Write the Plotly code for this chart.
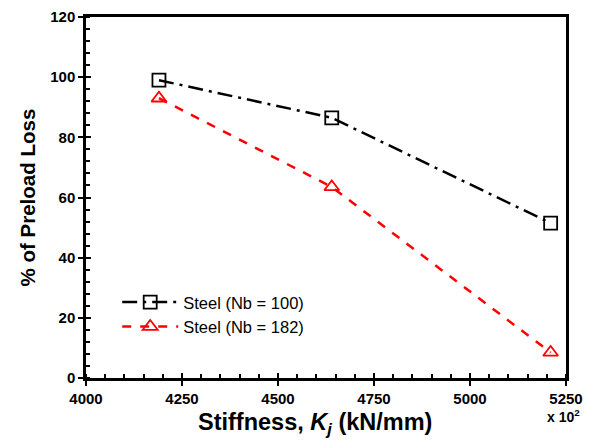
import plotly.graph_objects as go

stiffness = [4190, 4640, 5210]
loss_nb100 = [99, 86.5, 51.5]
loss_nb182 = [93, 63.5, 8.5]
series_names = ["Steel (Nb = 100)", "Steel (Nb = 182)"]
x_ticks = [4000, 4250, 4500, 4750, 5000, 5250]
y_ticks = [0, 20, 40, 60, 80, 100, 120]

FONT = "Liberation Sans, Arial, sans-serif"

fig = go.Figure()
fig.add_trace(go.Scatter(
    x=stiffness, y=loss_nb100, name=series_names[0], mode="lines+markers",
    line=dict(color="black", width=2.5, dash="longdashdot"),
    marker=dict(symbol="square-open", size=13, color="black", line=dict(width=1.8)),
))
fig.add_trace(go.Scatter(
    x=stiffness, y=loss_nb182, name=series_names[1], mode="lines+markers",
    line=dict(color="#ff0000", width=2.5, dash="dash"),
    marker=dict(symbol="triangle-up-open", size=13, color="#ff0000", line=dict(width=1.8)),
))
# invisible trace on overlay axes to show inside halves of major ticks
fig.add_trace(go.Scatter(x=[4000], y=[0], xaxis="x2", yaxis="y2", showlegend=False,
                         mode="markers", marker=dict(opacity=0), hoverinfo="skip"))

axis_common = dict(showline=True, linecolor="black", linewidth=2.5, mirror=True,
                   showgrid=False, zeroline=False, ticks="outside", ticklen=5,
                   tickwidth=2, tickcolor="black", automargin=False,
                   tickfont=dict(family=FONT, size=15, color="black", weight="bold"))

fig.update_layout(
    width=598, height=441,
    margin=dict(l=78, r=40, t=9, b=71),
    paper_bgcolor="white", plot_bgcolor="white",
    font=dict(family=FONT, color="black"),
    xaxis=dict(range=[4000, 5250], tickvals=x_ticks, **axis_common,
               minor=dict(dtick=50, tick0=4000, ticks="inside", ticklen=4, tickwidth=1.5, tickcolor="black")),
    yaxis=dict(range=[0, 120], tickvals=y_ticks, **axis_common,
               minor=dict(dtick=4, tick0=0, ticks="inside", ticklen=4, tickwidth=1.5, tickcolor="black")),
    xaxis2=dict(range=[4000, 5250], tickvals=x_ticks, overlaying="x", anchor="y2",
                ticks="inside", ticklen=5, tickwidth=2, tickcolor="black", automargin=False,
                showticklabels=False, showgrid=False, zeroline=False, showline=False),
    yaxis2=dict(range=[0, 120], tickvals=y_ticks, overlaying="y", anchor="x2",
                ticks="inside", ticklen=5, tickwidth=2, tickcolor="black", automargin=False,
                showticklabels=False, showgrid=False, zeroline=False, showline=False),
    legend=dict(x=0.065, y=0.258, xanchor="left", yanchor="top",
                bgcolor="rgba(0,0,0,0)", font=dict(family=FONT, size=16.5, color="black"),
                tracegroupgap=2, itemwidth=56),
    annotations=[
        dict(text="<b>x 10<sup>2</sup></b>", xref="paper", yref="paper",
             x=0.995, y=-0.075, xanchor="center", yanchor="top", showarrow=False,
             font=dict(family=FONT, size=14, color="black")),
        dict(text="<b>Stiffness, <i>K<sub>j</sub></i> (kN/mm)</b>", xref="paper", yref="paper",
             x=0.478, y=-0.127, xanchor="center", yanchor="middle", showarrow=False,
             font=dict(family=FONT, size=23.5, color="black")),
        dict(text="<b>% of Preload Loss</b>", xref="paper", yref="paper", textangle=-90,
             x=-0.121, y=0.5, xanchor="center", yanchor="middle", showarrow=False,
             font=dict(family=FONT, size=20.5, color="black")),
    ],
    showlegend=True,
)

fig.write_html("out.html")
